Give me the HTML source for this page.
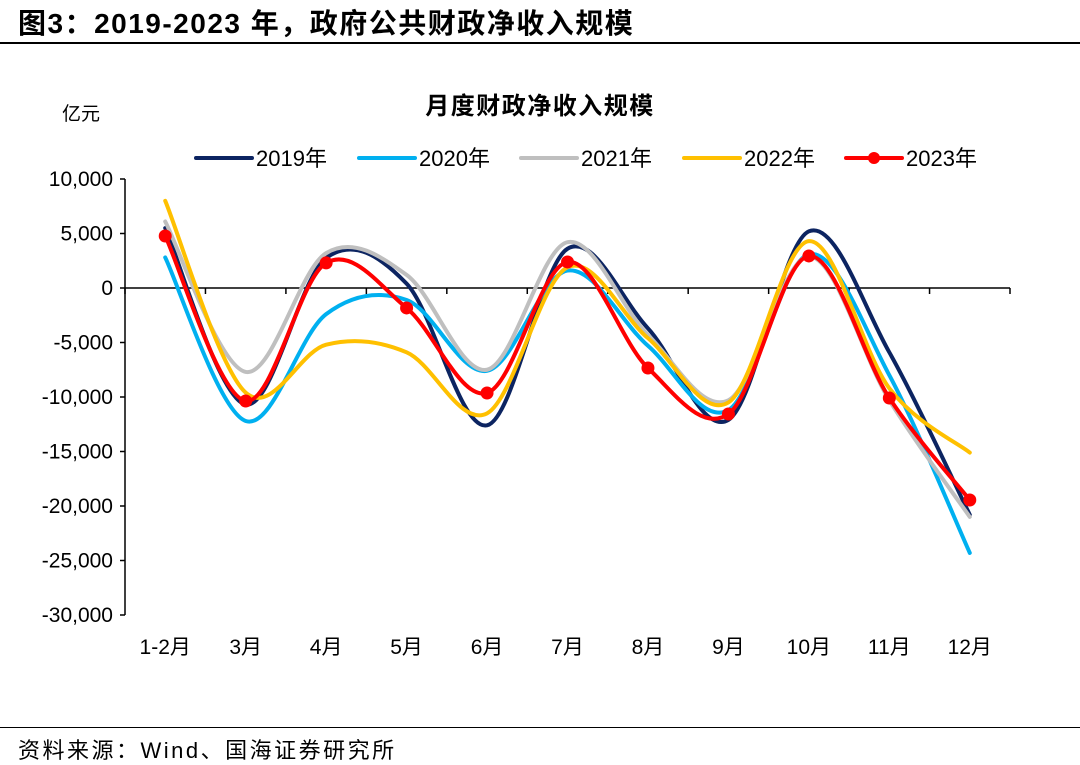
<!DOCTYPE html>
<html><head><meta charset="utf-8">
<style>
body{margin:0;background:#fff;width:1080px;height:763px;overflow:hidden;font-family:"Liberation Sans","Noto Sans CJK SC",sans-serif;}
#title{position:absolute;left:18px;top:2px;font-size:28px;font-weight:bold;color:#000;letter-spacing:1.5px}
.rule{position:absolute;left:0;width:1080px;height:2px;background:#000}
#src{position:absolute;left:18px;top:733px;font-size:22px;color:#000;letter-spacing:2.5px}
svg{position:absolute;left:0;top:0}
</style></head><body>
<div id="title">图3：2019-2023 年，政府公共财政净收入规模</div>
<div class="rule" style="top:42px"></div>
<div class="rule" style="top:727px;height:1px"></div>
<div id="src">资料来源：Wind、国海证券研究所</div>
<svg id="chart" width="1080" height="763"></svg>
<script>
const categories=["1-2月","3月","4月","5月","6月","7月","8月","9月","10月","11月","12月"];
const yTicks=[10000,5000,0,-5000,-10000,-15000,-20000,-25000,-30000];
const yTickLabels=["10,000","5,000","0","-5,000","-10,000","-15,000","-20,000","-25,000","-30,000"];
const seriesNames=["2019年","2020年","2021年","2022年","2023年"];
const s2019=[5500,-10700,2750,400,-12600,3600,-3700,-12100,5200,-5900,-20800];
const s2020=[2800,-12200,-2400,-1100,-7600,1600,-5300,-11200,3100,-8000,-24300];
const s2021=[6100,-7700,3200,1200,-7500,4200,-4300,-10300,2900,-10300,-21000];
const s2022=[8000,-9600,-5200,-5900,-11500,1900,-4600,-10500,4300,-9200,-15100];
const s2023=[4770,-10370,2300,-1830,-9630,2390,-7340,-11560,2940,-10090,-19450];
const colors=["#0c2461","#00b0f0","#bfbfbf","#ffc000","#ff0000"];
const allSeries=[s2019,s2020,s2021,s2022,s2023];

const svg=document.getElementById('chart');
const NS="http://www.w3.org/2000/svg";
const x0=125,x1=1010,yTop=179,yBot=615;
const bandW=(x1-x0)/categories.length;
function xs(i){return x0+bandW*(i+0.5);}
function ys(v){return yTop+(10000-v)/40000*(yBot-yTop);}
function mk(tag,attrs){const e=document.createElementNS(NS,tag);for(const k in attrs)e.setAttribute(k,attrs[k]);svg.appendChild(e);return e;}

let t=mk('text',{x:540,y:114,'text-anchor':'middle','font-size':24,'font-weight':'bold',fill:'#000','letter-spacing':'1.5'});
t.textContent="月度财政净收入规模";


t=mk('text',{x:62,y:120,'font-size':19,fill:'#000'});
t.textContent="亿元";



let ax=mk('line',{x1:x0,y1:yTop,x2:x0,y2:yBot,stroke:'#000','stroke-width':1.5});


yTicks.forEach((v,i)=>{
  const tk=mk('line',{x1:x0-5,y1:ys(v),x2:x0,y2:ys(v),stroke:'#000','stroke-width':1.5});
  
  
  const l=mk('text',{x:x0-12,y:ys(v)+7,'text-anchor':'end','font-size':21,fill:'#000'});
  l.textContent=yTickLabels[i];
  
  
});
ax=mk('line',{x1:x0,y1:ys(0),x2:x1,y2:ys(0),stroke:'#000','stroke-width':1.5});


for(let i=0;i<=categories.length;i++){
  const tk=mk('line',{x1:x0+bandW*i,y1:ys(0),x2:x0+bandW*i,y2:ys(0)+6,stroke:'#000','stroke-width':1.5});
  
  
}
categories.forEach((c,i)=>{
  const l=mk('text',{x:xs(i),y:654,'text-anchor':'middle','font-size':21,fill:'#000'});
  l.textContent=c;
  
  
});

function smoothPath(vals){
  const p=vals.map((v,i)=>[xs(i),ys(v)]);
  let d=`M${p[0][0]},${p[0][1]}`;
  const k=1/6;
  for(let i=0;i<p.length-1;i++){
    const a=p[i-1]||p[i],b=p[i],c=p[i+1],e=p[i+2]||c;
    d+=` C${b[0]+(c[0]-a[0])*k},${b[1]+(c[1]-a[1])*k} ${c[0]-(e[0]-b[0])*k},${c[1]-(e[1]-b[1])*k} ${c[0]},${c[1]}`;
  }
  return d;
}
allSeries.forEach((s,si)=>{
  const p=mk('path',{d:smoothPath(s),fill:'none',stroke:colors[si],'stroke-width':4,'stroke-linecap':'round'});
  
  
});
s2023.forEach((v,i)=>{
  const c=mk('circle',{cx:xs(i),cy:ys(v),r:6.5,fill:'#ff0000'});
  
  
});

const legX=[196,359,521,684,846];
seriesNames.forEach((n,i)=>{
  const y=158;
  const l=mk('line',{x1:legX[i],y1:y,x2:legX[i]+56,y2:y,stroke:colors[i],'stroke-width':4,'stroke-linecap':'round'});
  
  
  if(i===4){
    const c=mk('circle',{cx:legX[i]+28,cy:y,r:6,fill:'#ff0000'});
    
    
  }
  const t=mk('text',{x:legX[i]+60,y:y+8,'font-size':22,fill:'#000'});
  t.textContent=n;
  
  
});
</script>
</body></html>
